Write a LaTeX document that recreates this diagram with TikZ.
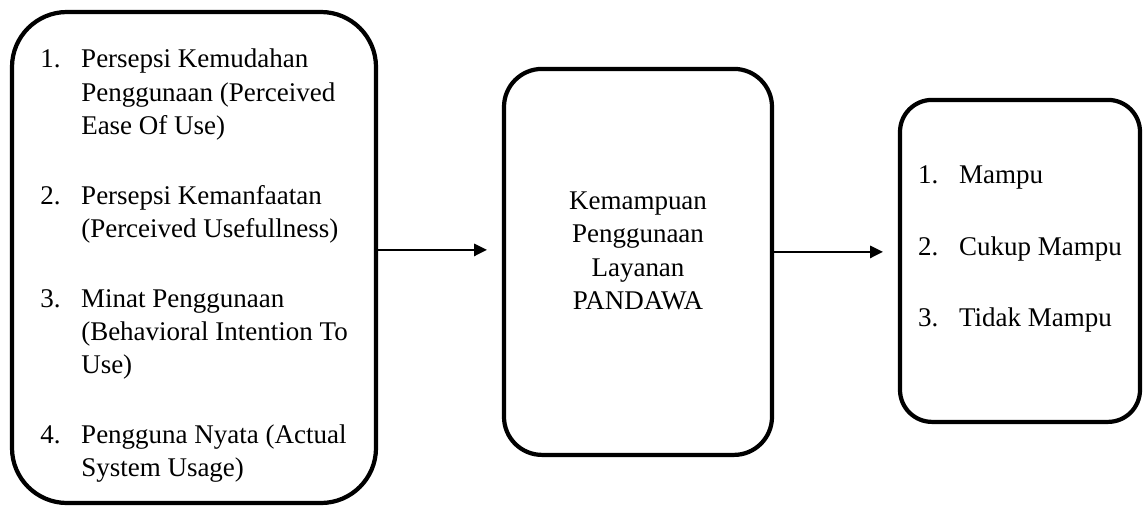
\documentclass[tikz,border=0pt]{standalone}
\usepackage{fontspec}
\setmainfont{Liberation Serif}
\usetikzlibrary{arrows.meta, positioning}

\newcommand{\nr}[1]{\makebox[1.025cm][l]{#1}}

\begin{document}
\begin{tikzpicture}[
  node distance=3.2cm,
  box/.style={rectangle, draw, line width=3pt, outer sep=0pt, inner sep=0pt,
    align=center, font=\fontsize{19.2}{23.8}\selectfont},
  arr/.style={-{Triangle[length=3.2mm, width=3mm]}, line width=1.8pt, shorten >=0.425cm}
]
\useasboundingbox (0,0) rectangle (28.6,-12.725);

\node[box, minimum width=9.1cm, minimum height=12.275cm, rounded corners=1.375cm] (faktor) at (4.85,-6.4375) {%
  \begin{tabular}{@{}l@{}l@{}}
  \rule{0pt}{0.99cm}\nr{1.} & Persepsi Kemudahan\\
          & Penggunaan (Perceived\\
          & Ease Of Use)\\[0.9cm]
  \nr{2.} & Persepsi Kemanfaatan\\
          & (Perceived Usefullness)\\[0.9cm]
  \nr{3.} & Minat Penggunaan\\
          & (Behavioral Intention To\\
          & Use)\\[0.9cm]
  \nr{4.} & Pengguna Nyata (Actual\\
          & System Usage)
  \end{tabular}};
\node[box, right=of faktor, yshift=-0.11cm, minimum width=6.7cm, minimum height=9.65cm, rounded corners=0.95cm] (kemampuan) {%
  \begin{tabular}{@{}c@{}}
  Kemampuan\\
  Penggunaan\\
  Layanan\\
  PANDAWA\\[0.45cm]
  \end{tabular}};
\node[box, right=of kemampuan, yshift=0.025cm, minimum width=6cm, minimum height=8.05cm, rounded corners=0.8cm] (hasil) {%
  \begin{tabular}{@{}l@{}l@{}}
  \nr{1.} & Mampu\\[0.95cm]
  \nr{2.} & Cukup Mampu\\[0.95cm]
  \nr{3.} & Tidak Mampu\\[0.62cm]
  \end{tabular}};

\coordinate (p1) at ([yshift=0.19cm]faktor.east);
\coordinate (p2) at ([yshift=0.25cm]kemampuan.east);
\draw[arr] (p1) -- (p1 -| kemampuan.west);
\draw[arr] (p2) -- (p2 -| hasil.west);
\end{tikzpicture}
\end{document}
